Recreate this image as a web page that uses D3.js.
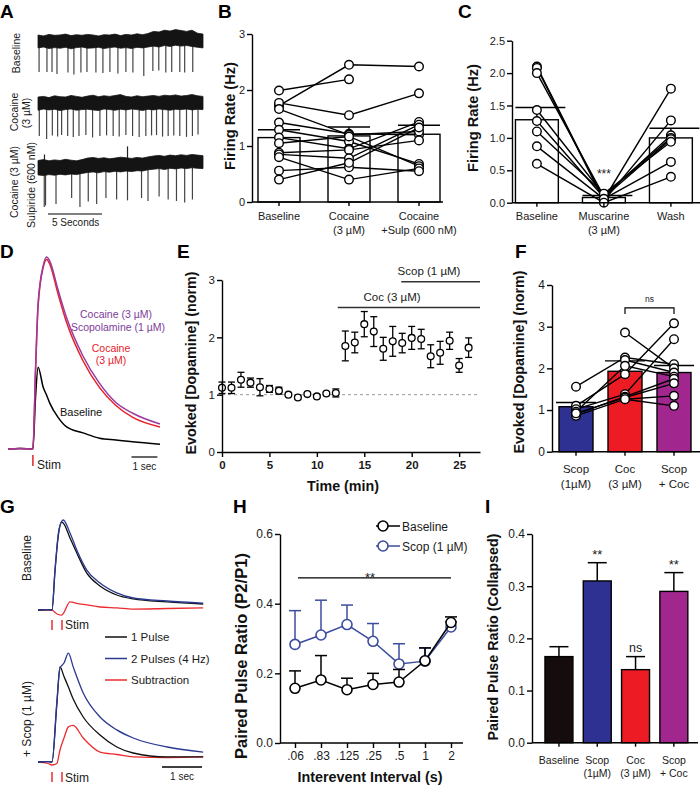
<!DOCTYPE html>
<html><head><meta charset="utf-8">
<script src="https://cdn.jsdelivr.net/npm/d3@7"></script>
<style>body{margin:0;background:#fff} svg{display:block}</style>
</head><body><svg id="c" width="700" height="787"></svg>
<script>
// ================= DATA =================
// Panel A: envelope of noisy band (relative units) and spikes
const A_labels = [["Baseline"], ["Cocaine", "(3 µM)"], ["Cocaine (3 µM)", "Sulpiride (600 nM)"]];
const A_top1 = [0.2,0.17,0.22,0.19,0.2,0.23,0.18,0.21,0.19,0.22,0.2,0.17,0.21,0.2,0.23,0.18,0.22,0.2,0.24,0.21,0.25,0.32,0.3,0.36,0.33,0.38,0.35,0.32,0.36,0.26,0.23];
const A_bot1 = [-0.23,-0.2,-0.25,-0.22,-0.24,-0.21,-0.26,-0.22,-0.2,-0.24,-0.23,-0.21,-0.25,-0.22,-0.2,-0.24,-0.22,-0.25,-0.21,-0.23,-0.2,-0.17,-0.2,-0.15,-0.18,-0.14,-0.17,-0.15,-0.18,-0.21,-0.23];
const A_top2 = [0.2,0.22,0.18,0.24,0.21,0.2,0.25,0.22,0.19,0.23,0.26,0.21,0.24,0.22,0.25,0.28,0.22,0.2,0.24,0.21,0.23,0.25,0.22,0.26,0.24,0.27,0.23,0.25,0.28,0.24,0.22];
const A_bot2 = [-0.24,-0.2,-0.23,-0.21,-0.25,-0.22,-0.2,-0.24,-0.22,-0.21,-0.23,-0.25,-0.2,-0.22,-0.24,-0.21,-0.23,-0.2,-0.22,-0.25,-0.21,-0.23,-0.2,-0.22,-0.24,-0.21,-0.22,-0.2,-0.23,-0.21,-0.22];
const A_top3 = [0.25,0.28,0.24,0.27,0.25,0.29,0.26,0.24,0.28,0.33,0.35,0.32,0.34,0.31,0.33,0.36,0.34,0.32,0.35,0.33,0.37,0.4,0.42,0.39,0.43,0.41,0.44,0.42,0.45,0.43,0.41];
const A_bot3 = [-0.23,-0.25,-0.22,-0.24,-0.21,-0.23,-0.2,-0.22,-0.18,-0.15,-0.13,-0.16,-0.12,-0.14,-0.11,-0.13,-0.1,-0.12,-0.09,-0.1,-0.06,-0.04,-0.02,-0.05,-0.01,-0.03,0.0,-0.02,0.01,-0.01,-0.02];
const A_spk1 = [0.1,0.83,1.3,1.76,2.78,3.33,3.98,4.54,5.37,6.02,6.67,7.41,8.15,8.8,9.81,10.65,11.2,11.85,12.4,13.15,13.6,14.35];
const A_tip1 = [-1.03,-1.03,-1.03,-1.1,-1.05,-1.12,-1.05,-1.03,-1.05,-1.07,-1.03,-1.08,-1.03,-1.05,-1.17,-1.0,-0.98,-1.05,-1.03,-1.03,-1.05,-1.03];
const A_spk2 = [0.12,0.8,1.33,1.82,2.19,2.75,3.27,3.8,4.44,5.06,5.74,6.36,6.97,7.53,8.15,8.77,9.38,10.0,10.53,10.99,11.55,12.07,12.59,13.15,13.77,14.32,14.84];
const A_tip2 = [-1.1,-1.2,-1.08,-1.12,-1.07,-1.1,-1.13,-1.1,-1.07,-1.15,-1.1,-1.08,-1.1,-1.12,-1.07,-1.1,-1.13,-1.1,-1.08,-1.07,-1.12,-1.1,-1.08,-1.1,-1.13,-1.1,-1.05];
const A_spk3 = [0.58,0.7,1.67,3.12,3.89,4.66,5.44,6.3,7.29,8.3,9.6,10.2,11.23,12.07,12.84,13.6,14.32];
const A_tip3 = [-1.3,-1.25,-1.2,-1.0,-1.3,-1.12,-1.2,-1.0,-1.05,-1.08,-1.0,-1.1,-0.95,-1.05,-1.1,-1.15,-1.05];
const A_up3t = [0.6, 8.3];
const A_up3v = [0.45, 0.72];

// Panel B
const B_cats = ["Baseline", "Cocaine\n(3 µM)", "Cocaine\n+Sulp (600 nM)"];
const B_mean = [1.15, 1.18, 1.21];
const B_sem = [0.14, 0.16, 0.16];
const B_base = [1.72, 1.99, 1.77, 1.42, 1.29, 1.66, 1.15, 1.05, 0.88, 0.85, 0.80, 0.56, 0.40];
const B_coc  = [2.45, 2.19, 1.55, 1.22, 1.08, 1.20, 0.95, 1.17, 0.93, 0.78, 0.40, 0.62, 0.70];
const B_sulp = [2.42, null, 1.94, 1.20, 0.68, 1.26, 1.43, 0.64, 1.10, 1.38, 0.60, 0.55, 1.33];

// Panel C
const C_cats = ["Baseline", "Muscarine\n(3 µM)", "Wash"];
const C_mean = [1.28, 0.08, 1.0];
const C_sem = [0.19, 0.03, 0.15];
const C_base = [2.10, 2.08, 2.00, 1.43, 1.26, 1.10, 0.87, 0.60];
const C_musc = [0.05, 0.03, 0.10, 0.12, 0.08, 0.14, 0.06, 0.00];
const C_wash = [1.76, 1.27, 1.04, 1.00, 0.98, 0.94, 0.63, 0.40];

// Panel D (traces, time in s relative to stim)
const D_t    = [-0.96, -0.5, 0, 0.1, 0.2, 0.4, 0.53, 0.65, 0.97, 1.3, 1.93, 2.57, 3.2, 3.85, 4.9];
const D_base = [0, 0.01, 0, 0.85, 1.37, 1.03, 0.9, 0.77, 0.53, 0.37, 0.27, 0.18, 0.15, 0.12, 0.08];
const D_coc  = [0, 0.01, 0, 1.3, 2.4, 3.05, 3.18, 3.1, 2.6, 2.12, 1.48, 1.03, 0.73, 0.53, 0.37];
const D_scop = [0, 0.01, 0, 1.3, 2.43, 3.08, 3.22, 3.15, 2.67, 2.2, 1.56, 1.1, 0.78, 0.6, 0.42];

// Panel E
const E_time = [0,1,2,3,4,5,6,7,8,9,10,11,12,13,14,15,16,17,18,19,20,21,22,23,24,25,26];
const E_mean = [1.12,1.12,1.26,1.21,1.13,1.10,1.07,1.0,0.95,1.01,0.97,1.02,1.03,1.85,1.91,2.23,2.10,1.80,1.93,1.90,1.99,1.97,1.67,1.73,1.94,1.51,1.82];
const E_sem  = [0.1,0.1,0.13,0.08,0.15,0.06,0.06,0.02,0.02,0.02,0.02,0.02,0.07,0.26,0.18,0.22,0.26,0.2,0.26,0.17,0.2,0.17,0.2,0.2,0.15,0.12,0.17];
const E_treatLabel = ["Coc (3 µM)", "Scop (1 µM)"];
const E_treatStart = [12.2, 18.9];
const E_treatLevel = [2.52, 2.97];

// Panel F
const F_cats = ["Scop\n(1µM)", "Coc\n(3 µM)", "Scop\n+ Coc"];
const F_mean = [1.08, 1.93, 1.90];
const F_sem = [0.10, 0.25, 0.17];
const F_scop = [1.56, 1.10, 1.02, null, null, 0.96, 0.90, 0.86, 0.92, null];
const F_coc  = [2.26, 1.86, 1.38, 2.86, 2.20, 2.06, 1.32, 1.26, 1.30, 1.26];
const F_sc   = [2.10, 3.08, 2.70, 2.00, 1.90, 1.80, 1.75, 1.34, 1.64, 1.10];

// Panel G (traces, time in s relative to first stim)
const G_t    = [-0.35, -0.1, 0, 0.075, 0.16, 0.24, 0.28, 0.45, 0.62, 0.87, 1.2, 1.62, 2.03, 2.88, 3.78];
const G_blue1 = [0, 0.01, 0, 1.33, 2.57, 2.95, 3.0, 2.57, 2.0, 1.33, 0.9, 0.57, 0.4, 0.3, 0.23];
const G_black1 = [0, 0.01, 0, 1.3, 2.5, 2.93, 2.9, 2.4, 1.9, 1.23, 0.8, 0.5, 0.37, 0.27, 0.2];
const G_red1 = [0, 0.0, 0, -0.08, -0.15, -0.17, -0.12, 0.27, 0.22, 0.17, 0.1, 0.07, 0.03, 0.05, 0.07];
const G2_t   = [-0.35, -0.1, 0, 0.12, 0.2, 0.3, 0.41, 0.53, 0.78, 1.2, 1.62, 2.03, 2.88, 3.78];
const G_blue2 = [0, 0.01, 0, 1.97, 3.13, 3.3, 3.63, 3.17, 2.3, 1.5, 1.07, 0.8, 0.5, 0.33];
const G_black2 = [0, 0.01, 0, 1.9, 3.17, 2.85, 2.5, 2.1, 1.5, 0.9, 0.5, 0.3, 0.17, 0.17];
const G_red2 = [0, -0.05, -0.1, -0.05, 0.4, 0.8, 1.17, 1.22, 0.8, 0.33, 0.25, 0.17, 0.15, 0.17];
const G_legend = ["1 Pulse", "2 Pulses (4 Hz)", "Subtraction"];
const G_stims = [0, 0.25];

// Panel H
const H_cats = [".06", ".83", ".125", ".25", ".5", "1", "2"];
const H_base = [0.157, 0.181, 0.153, 0.168, 0.175, 0.236, 0.346];
const H_baseSem = [0.05, 0.07, 0.033, 0.032, 0.036, 0.037, 0.016];
const H_scop = [0.283, 0.31, 0.34, 0.292, 0.227, 0.235, 0.333];
const H_scopSem = [0.097, 0.1, 0.056, 0.051, 0.058, 0.038, 0.015];
const H_series = ["Baseline", "Scop (1 µM)"];

// Panel I
const I_cats = ["Baseline", "Scop\n(1µM)", "Coc\n(3 µM)", "Scop\n+ Coc"];
const I_mean = [0.165, 0.31, 0.14, 0.29];
const I_sem = [0.019, 0.035, 0.025, 0.036];
const I_sig = ["", "**", "ns", "**"];

// ================= DRAWING =================
const FONT = '"Liberation Sans", Arial, Helvetica, sans-serif';
const COL = { blue: "#2e3192", red: "#ed1c24", purple: "#a1278f", hblue: "#3c4c9c",
              dpurple: "#9b3a9f", dred: "#e62129", gblue: "#2b3990", gred: "#ec2b2f" };
const svg = d3.select("#c");
svg.append("rect").attr("width", 700).attr("height", 787).attr("fill", "#fff");

function txt(x, y, s, o = {}) {
  const t = svg.append("text").attr("x", x).attr("y", y).text(s)
    .attr("font-family", FONT).attr("font-size", o.size || 11)
    .attr("fill", o.fill || "#1a1a1a").attr("text-anchor", o.anchor || "start")
    .attr("font-weight", o.weight || "normal");
  if (o.rotate) t.attr("transform", `rotate(-90,${x},${y})`).attr("dy", o.dy || "0.35em");
  if (o.fit) {
    const L = t.node().getComputedTextLength();
    if (L > 0) t.attr("font-size", (o.size || 11) * o.fit / L);
  }
  return t;
}
function styleAxis(g, size = 11, weight = "normal") {
  g.attr("font-family", FONT);
  g.selectAll("path,line").attr("stroke", "#000").attr("stroke-width", 1.4);
  g.selectAll("text").attr("font-size", size).attr("fill", "#1a1a1a").attr("font-weight", weight);
}

// Panel letters
[["A", 0, 18], ["B", 218, 18], ["C", 458, 18], ["D", 0, 258], ["E", 177, 258],
 ["F", 515, 258], ["G", 0, 513], ["H", 233, 513], ["I", 485, 513]].forEach(([l, x, y]) =>
  txt(x, y, l, { size: 19, weight: "bold", fill: "#000" }));

// ---------- Panel A ----------
(function () {
  const xA = d3.scaleLinear().domain([0, 15.3]).range([38, 203]);
  const envT = A_top1.map((d, i) => i * 15.3 / (A_top1.length - 1));
  const rows = [
    { top: A_top1, bot: A_bot1, spk: A_spk1, tip: A_tip1, c: 41, up: [], upv: [] },
    { top: A_top2, bot: A_bot2, spk: A_spk2, tip: A_tip2, c: 103, up: [], upv: [] },
    { top: A_top3, bot: A_bot3, spk: A_spk3, tip: A_tip3, c: 168, up: A_up3t, upv: A_up3v }];
  rows.forEach(r => {
    const y = d3.scaleLinear().domain([-1.5, 0.5]).range([r.c + 45, r.c - 15]);
    r.spk.forEach((t, i) => svg.append("line").attr("x1", xA(t)).attr("x2", xA(t))
      .attr("y1", y(0)).attr("y2", y(r.tip[i])).attr("stroke", "#444").attr("stroke-width", 1.2));
    r.up.forEach((t, i) => svg.append("line").attr("x1", xA(t)).attr("x2", xA(t))
      .attr("y1", y(0)).attr("y2", y(r.upv[i])).attr("stroke", "#222").attr("stroke-width", 1.2));
    const area = d3.area().x((d, i) => xA(envT[i])).y0((d, i) => y(r.bot[i])).y1((d, i) => y(r.top[i]));
    svg.append("path").attr("d", area(r.top)).attr("fill", "#141414").attr("stroke", "#141414").attr("stroke-width", 0.8);
  });
  txt(16, 53, A_labels[0][0], { size: 10.5, anchor: "middle", rotate: true });
  txt(14, 112, A_labels[1][0], { size: 10.5, anchor: "middle", rotate: true });
  txt(26, 113, A_labels[1][1], { size: 10.5, anchor: "middle", rotate: true });
  txt(14, 182, A_labels[2][0], { size: 10.5, anchor: "middle", rotate: true });
  txt(31, 185, A_labels[2][1], { size: 10.5, anchor: "middle", rotate: true });
  svg.append("line").attr("x1", xA(0.93)).attr("x2", xA(5.93)).attr("y1", 214).attr("y2", 214)
    .attr("stroke", "#000").attr("stroke-width", 1.2);
  txt(52, 226, "5 Seconds", { size: 10 });
})();

// ---------- paired bar panels (B, C, F) ----------
function pairedPanel(cfg) {
  const { cats, means, sems, cols, x, y, axisX, axisEnd, fills, ticks, fmt, capL, capR, r, tickSize, catY, catSize } = cfg;
  const cx = c => x(c) + x.bandwidth() / 2;
  const g = svg.append("g");
  cats.forEach((c, i) => {
    g.append("rect").attr("x", x(c)).attr("width", x.bandwidth()).attr("y", y(means[i]))
      .attr("height", y(0) - y(means[i])).attr("fill", fills[i]).attr("stroke", "#000").attr("stroke-width", 1.4);
    g.append("line").attr("x1", cx(c)).attr("x2", cx(c)).attr("y1", y(means[i])).attr("y2", y(means[i] + sems[i]))
      .attr("stroke", "#000").attr("stroke-width", 1.4);
    g.append("line").attr("x1", x(c) + capL).attr("x2", x(c) + x.bandwidth() + capR)
      .attr("y1", y(means[i] + sems[i])).attr("y2", y(means[i] + sems[i])).attr("stroke", "#000").attr("stroke-width", 1.4);
  });
  const n = cols[0].length;
  const line = d3.line().x(d => d.x).y(d => y(d.v));
  for (let k = 0; k < n; k++) {
    const pts = cats.map((c, j) => ({ x: cx(c), v: cols[j][k] })).filter(p => p.v != null);
    g.append("path").attr("d", line(pts)).attr("fill", "none").attr("stroke", "#000").attr("stroke-width", 1.4);
  }
  cats.forEach((c, j) => cols[j].forEach(v => {
    if (v == null) return;
    g.append("circle").attr("cx", cx(c)).attr("cy", y(v)).attr("r", r)
      .attr("fill", "#fff").attr("stroke", "#000").attr("stroke-width", 1.4);
  }));
  const ya = g.append("g").attr("transform", `translate(${axisX},0)`)
    .call(d3.axisLeft(y).tickValues(ticks).tickFormat(fmt).tickSize(tickSize).tickSizeOuter(0).tickPadding(2));
  styleAxis(ya, cfg.tickFont || 11);
  g.append("line").attr("x1", axisX).attr("x2", axisEnd).attr("y1", y(0)).attr("y2", y(0))
    .attr("stroke", "#000").attr("stroke-width", 1.4);
  cats.forEach(c => {
    g.append("line").attr("x1", cx(c)).attr("x2", cx(c)).attr("y1", y(0)).attr("y2", y(0) + 4)
      .attr("stroke", "#000").attr("stroke-width", 1.4);
    c.split("\n").forEach((s, li) => txt(cx(c), catY[li], s, { size: catSize, anchor: "middle" }));
  });
  return { g, cx };
}

// Panel B
(function () {
  const x = d3.scaleBand().domain(B_cats).range([244, 454]).paddingInner(0.4).paddingOuter(0.2);
  const y = d3.scaleLinear().domain([0, 3]).range([202, 34]);
  pairedPanel({ cats: B_cats, means: B_mean, sems: B_sem, cols: [B_base, B_coc, B_sulp], x, y,
    axisX: 252, axisEnd: 443, fills: ["#fff", "#fff", "#fff"], ticks: [0, 1, 2, 3], fmt: d3.format("d"),
    capL: 0, capR: 0, r: 4.3, tickSize: 5, catY: [220, 234], catSize: 11 });
  txt(230, 116, "Firing Rate (Hz)", { size: 14, weight: "bold", anchor: "middle", rotate: true, fill: "#111", fit: 108 });
})();

// Panel C
(function () {
  const x = d3.scaleBand().domain(C_cats).range([503.4, 704.4]).paddingInner(0.36).paddingOuter(0.18);
  const y = d3.scaleLinear().domain([0, 2.5]).range([202.7, 40.7]);
  const p = pairedPanel({ cats: C_cats, means: C_mean, sems: C_sem, cols: [C_base, C_musc, C_wash], x, y,
    axisX: 512, axisEnd: 700, fills: ["#fff", "#fff", "#fff"], ticks: [0, 0.5, 1, 1.5, 2, 2.5], fmt: d3.format(".1f"),
    capL: 0, capR: 7, r: 4.3, tickSize: 5, catY: [220, 234], catSize: 11 });
  txt(p.cx(C_cats[1]), y(0.5) + 8, "***", { size: 12, anchor: "middle" });
  txt(473, 118, "Firing Rate (Hz)", { size: 14, weight: "bold", anchor: "middle", rotate: true, fill: "#111", fit: 108 });
})();

// ---------- Panel D ----------
(function () {
  const x = d3.scaleLinear().domain([-0.96, 4.9]).range([8, 160]);
  const y = d3.scaleLinear().domain([0, 3.22]).range([449, 257]);
  const line = vals => d3.line().x((d, i) => x(D_t[i])).y(d => y(d)).curve(d3.curveMonotoneX)(vals);
  svg.append("path").attr("d", line(D_base)).attr("fill", "none").attr("stroke", "#000").attr("stroke-width", 1.5);
  svg.append("path").attr("d", line(D_coc)).attr("fill", "none").attr("stroke", COL.dred).attr("stroke-width", 1.5);
  svg.append("path").attr("d", line(D_scop)).attr("fill", "none").attr("stroke", COL.dpurple).attr("stroke-width", 1.5);
  svg.append("line").attr("x1", x(0)).attr("x2", x(0)).attr("y1", 455).attr("y2", 466)
    .attr("stroke", COL.dred).attr("stroke-width", 1.5);
  txt(x(0) + 4, 469, "Stim", { size: 12 });
  svg.append("line").attr("x1", x(3.8)).attr("x2", x(4.8)).attr("y1", 457).attr("y2", 457)
    .attr("stroke", "#000").attr("stroke-width", 1.2);
  txt(x(4.3), 470, "1 sec", { size: 10, anchor: "middle" });
  txt(116, 318, "Cocaine (3 µM)", { size: 10.5, anchor: "middle", fill: "#7e3c97" });
  txt(118, 331, "Scopolamine (1 µM)", { size: 10.5, anchor: "middle", fill: "#7e3c97" });
  txt(111, 352, "Cocaine", { size: 10.5, anchor: "middle", fill: COL.dred });
  txt(111, 364, "(3 µM)", { size: 10.5, anchor: "middle", fill: COL.dred });
  txt(60, 416, "Baseline", { size: 11, fill: "#111" });
})();

// ---------- Panel E ----------
(function () {
  const x = d3.scaleLinear().domain([0, 27.2]).range([222, 480]);
  const y = d3.scaleLinear().domain([0, 3]).range([452, 280]);
  const g = svg.append("g");
  g.append("line").attr("x1", x(0)).attr("x2", x(27.2)).attr("y1", y(1)).attr("y2", y(1))
    .attr("stroke", "#9a9a9a").attr("stroke-width", 1).attr("stroke-dasharray", "3,3");
  E_time.forEach((t, i) => {
    const lo = y(E_mean[i] - E_sem[i]), hi = y(E_mean[i] + E_sem[i]);
    g.append("line").attr("x1", x(t)).attr("x2", x(t)).attr("y1", lo).attr("y2", hi).attr("stroke", "#000").attr("stroke-width", 1.3);
    [lo, hi].forEach(yy => g.append("line").attr("x1", x(t) - 3.5).attr("x2", x(t) + 3.5).attr("y1", yy).attr("y2", yy)
      .attr("stroke", "#000").attr("stroke-width", 1.3));
  });
  E_time.forEach((t, i) => g.append("circle").attr("cx", x(t)).attr("cy", y(E_mean[i])).attr("r", 3.4)
    .attr("fill", "#fff").attr("stroke", "#000").attr("stroke-width", 1.3));
  const ya = g.append("g").attr("transform", `translate(${x(0)},0)`)
    .call(d3.axisLeft(y).tickValues([0, 1, 2, 3]).tickFormat(d3.format("d")).tickSize(5).tickSizeOuter(0).tickPadding(2));
  styleAxis(ya, 11.5);
  const xa = g.append("g").attr("transform", `translate(0,${y(0)})`)
    .call(d3.axisBottom(x).tickValues([0, 5, 10, 15, 20, 25]).tickFormat(d3.format("d")).tickSize(5).tickSizeOuter(0).tickPadding(4));
  styleAxis(xa, 11.5, "bold");
  E_treatLabel.forEach((lab, i) => {
    g.append("line").attr("x1", x(E_treatStart[i])).attr("x2", x(27.2)).attr("y1", y(E_treatLevel[i])).attr("y2", y(E_treatLevel[i]))
      .attr("stroke", "#333").attr("stroke-width", 1.5);
  });
  txt(392, 301, E_treatLabel[0], { size: 11.5, anchor: "middle" });
  txt(429, 275, E_treatLabel[1], { size: 11.5, anchor: "middle" });
  txt(343, 491, "Time (min)", { size: 13.5, weight: "bold", anchor: "middle", fill: "#111", fit: 72 });
  txt(191, 363, "Evoked [Dopamine] (norm)", { size: 14, weight: "bold", anchor: "middle", rotate: true, fill: "#111", fit: 183 });
})();

// Panel F
(function () {
  const x = d3.scaleBand().domain(F_cats).range([551.5, 698.5]).paddingInner(0.306).paddingOuter(0.153);
  const y = d3.scaleLinear().domain([0, 4]).range([451.7, 285]);
  const p = pairedPanel({ cats: F_cats, means: F_mean, sems: F_sem, cols: [F_scop, F_coc, F_sc], x, y,
    axisX: 552, axisEnd: 700, fills: [COL.blue, COL.red, COL.purple], ticks: [0, 1, 2, 3, 4], fmt: d3.format("d"),
    capL: -3, capR: 3, r: 4.3, tickSize: 5, catY: [473, 488], catSize: 11.5, tickFont: 12 });
  const x1 = p.cx(F_cats[1]), x2 = p.cx(F_cats[2]), yb = y(3.45);
  svg.append("path").attr("d", `M${x1},${yb + 6}V${yb}H${x2}V${yb + 6}`).attr("fill", "none")
    .attr("stroke", "#000").attr("stroke-width", 1.2);
  txt((x1 + x2) / 2, yb - 6, "ns", { size: 8.5, anchor: "middle" });
  txt(519, 362, "Evoked [Dopamine] (norm)", { size: 14, weight: "bold", anchor: "middle", rotate: true, fill: "#111", fit: 183 });
})();

// ---------- Panel G ----------
(function () {
  const x = d3.scaleLinear().domain([-0.35, 3.78]).range([38, 203.2]);
  const y1 = d3.scaleLinear().domain([0, 1]).range([610, 580]);
  const y2 = d3.scaleLinear().domain([0, 1]).range([762, 732]);
  const mk = (ts, y) => d3.line().x((d, i) => x(ts[i])).y(d => y(d)).curve(d3.curveMonotoneX);
  const draw = (ts, y, vals, col) => svg.append("path").attr("d", mk(ts, y)(vals)).attr("fill", "none")
    .attr("stroke", col).attr("stroke-width", 1.3);
  draw(G_t, y1, G_red1, COL.gred); draw(G_t, y1, G_black1, "#111"); draw(G_t, y1, G_blue1, COL.gblue);
  draw(G2_t, y2, G_red2, COL.gred); draw(G2_t, y2, G_black2, "#111"); draw(G2_t, y2, G_blue2, COL.gblue);
  [[620, 630, 629], [772, 782, 782]].forEach(([a, b, ty]) => {
    G_stims.forEach(s => svg.append("line").attr("x1", x(s)).attr("x2", x(s)).attr("y1", a).attr("y2", b)
      .attr("stroke", COL.gred).attr("stroke-width", 1.5));
    txt(x(0.25) + 3, ty, "Stim", { size: 12 });
  });
  svg.append("line").attr("x1", x(2.75)).attr("x2", x(3.75)).attr("y1", 767).attr("y2", 767)
    .attr("stroke", "#000").attr("stroke-width", 1.3);
  txt(x(3.25), 780, "1 sec", { size: 10, anchor: "middle" });
  const lc = ["#111", COL.gblue, COL.gred];
  G_legend.forEach((l, i) => {
    const yy = 637 + i * 21.5;
    svg.append("line").attr("x1", 105).attr("x2", 127).attr("y1", yy).attr("y2", yy).attr("stroke", lc[i]).attr("stroke-width", 1.5);
    txt(131, yy + 4, l, { size: 11.5 });
  });
  txt(27, 558, "Baseline", { size: 12, anchor: "middle", rotate: true });
  txt(27, 719, "+ Scop (1 µM)", { size: 12, anchor: "middle", rotate: true });
})();

// ---------- Panel H ----------
(function () {
  const x = d3.scalePoint().domain(H_cats).range([295, 451]);
  const y = d3.scaleLinear().domain([0, 0.6]).range([743, 534]);
  const g = svg.append("g");
  const series = [[H_scop, H_scopSem, COL.hblue], [H_base, H_baseSem, "#000"]];
  series.forEach(([m, s, col]) => {
    H_cats.forEach((c, i) => {
      g.append("line").attr("x1", x(c)).attr("x2", x(c)).attr("y1", y(m[i])).attr("y2", y(m[i] + s[i]))
        .attr("stroke", col).attr("stroke-width", 1.5);
      g.append("line").attr("x1", x(c) - 6).attr("x2", x(c) + 6).attr("y1", y(m[i] + s[i])).attr("y2", y(m[i] + s[i]))
        .attr("stroke", col).attr("stroke-width", 1.5);
    });
    g.append("path").attr("d", d3.line().x((d, i) => x(H_cats[i])).y(d => y(d))(m)).attr("fill", "none")
      .attr("stroke", col).attr("stroke-width", 1.5);
    m.forEach((v, i) => g.append("circle").attr("cx", x(H_cats[i])).attr("cy", y(v)).attr("r", 5)
      .attr("fill", "#fff").attr("stroke", col).attr("stroke-width", 1.6));
  });
  const ya = g.append("g").attr("transform", "translate(280,0)")
    .call(d3.axisLeft(y).tickValues([0, 0.2, 0.4, 0.6]).tickFormat(d3.format(".1f")).tickSize(5).tickSizeOuter(0).tickPadding(2));
  styleAxis(ya, 12);
  const xa = g.append("g").attr("transform", `translate(0,${y(0)})`)
    .call(d3.axisBottom(x).tickSize(5).tickSizeOuter(0).tickPadding(3));
  xa.select(".domain").remove();
  styleAxis(xa, 12);
  g.append("line").attr("x1", 280).attr("x2", 463).attr("y1", y(0)).attr("y2", y(0)).attr("stroke", "#000").attr("stroke-width", 1.4);
  g.append("line").attr("x1", x(H_cats[0]) + 3).attr("x2", x(H_cats[6])).attr("y1", y(0.474)).attr("y2", y(0.474))
    .attr("stroke", "#000").attr("stroke-width", 1.3);
  txt(370, y(0.474) + 4, "**", { size: 13, anchor: "middle" });
  [[526, "#000"], [546, COL.hblue]].forEach(([yy, col], i) => {
    g.append("line").attr("x1", 376).attr("x2", 400).attr("y1", yy).attr("y2", yy).attr("stroke", col).attr("stroke-width", 1.5);
    g.append("circle").attr("cx", 383).attr("cy", yy).attr("r", 5).attr("fill", "#fff").attr("stroke", col).attr("stroke-width", 1.6);
    txt(402, yy + 4.5, H_series[i], { size: 12 });
  });
  txt(370, 782, "Interevent Interval (s)", { size: 13.5, weight: "bold", anchor: "middle", fill: "#111", fit: 145 });
  txt(241, 656, "Paired Pulse Ratio (P2/P1)", { size: 14, weight: "bold", anchor: "middle", rotate: true, fill: "#111", fit: 206 });
})();

// ---------- Panel I ----------
(function () {
  const x = d3.scaleBand().domain(I_cats).range([539.8, 693]).paddingInner(0.27).paddingOuter(0.135);
  const y = d3.scaleLinear().domain([0, 0.4]).range([742.7, 534]);
  const fills = ["#150d0d", COL.blue, COL.red, COL.purple];
  const g = svg.append("g");
  I_cats.forEach((c, i) => {
    const cx = x(c) + x.bandwidth() / 2, top = y(I_mean[i] + I_sem[i]);
    g.append("line").attr("x1", cx).attr("x2", cx).attr("y1", y(I_mean[i])).attr("y2", top).attr("stroke", "#000").attr("stroke-width", 1.5);
    g.append("line").attr("x1", cx - 9.5).attr("x2", cx + 9.5).attr("y1", top).attr("y2", top).attr("stroke", "#000").attr("stroke-width", 1.5);
    g.append("rect").attr("x", x(c)).attr("width", x.bandwidth()).attr("y", y(I_mean[i])).attr("height", y(0) - y(I_mean[i]))
      .attr("fill", fills[i]).attr("stroke", "#000").attr("stroke-width", 1.4);
    if (I_sig[i] === "**") txt(cx, top - 4, "**", { size: 13, anchor: "middle" });
    else if (I_sig[i]) txt(cx, top - 5, I_sig[i], { size: 12.5, anchor: "middle" });
    g.append("line").attr("x1", cx).attr("x2", cx).attr("y1", y(0)).attr("y2", y(0) + 4).attr("stroke", "#000").attr("stroke-width", 1.4);
    c.split("\n").forEach((s, li) => txt(cx, 764 + li * 13, s, { size: 10.5, anchor: "middle" }));
  });
  const ya = g.append("g").attr("transform", "translate(532,0)")
    .call(d3.axisLeft(y).tickValues([0, 0.1, 0.2, 0.3, 0.4]).tickFormat(d3.format(".1f")).tickSize(5).tickSizeOuter(0).tickPadding(2));
  styleAxis(ya, 12);
  g.append("line").attr("x1", 532).attr("x2", 698).attr("y1", y(0)).attr("y2", y(0)).attr("stroke", "#000").attr("stroke-width", 1.4);
  txt(493, 637, "Paired Pulse Ratio (Collapsed)", { size: 13, weight: "bold", anchor: "middle", rotate: true, fill: "#111", fit: 207 });
})();
</script></body></html>
